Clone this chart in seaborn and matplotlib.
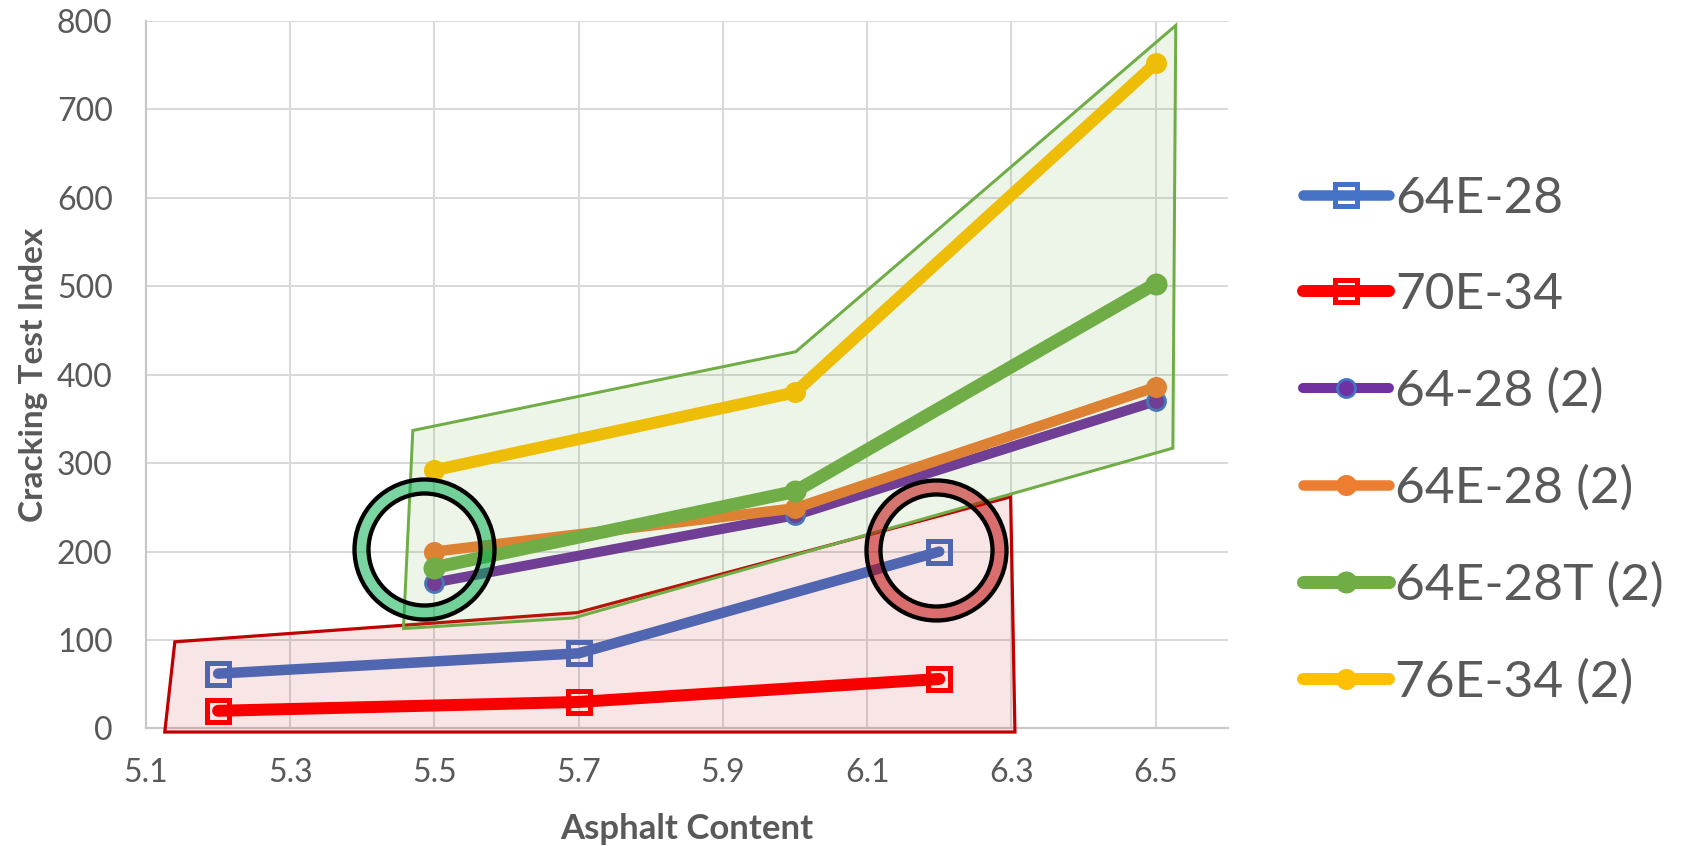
import matplotlib
matplotlib.use("Agg")
import matplotlib.pyplot as plt
import seaborn as sns

# Mix series: asphalt content (%) vs. cracking test index
x_first = [5.2, 5.7, 6.2]
cti_64e28 = [62, 85, 200]
cti_70e34 = [20, 30, 56]

x_second = [5.5, 6.0, 6.5]
cti_64_28_2 = [165, 241, 370]
cti_64e28_2 = [200, 249, 386]
cti_64e28t_2 = [182, 268, 503]
cti_76e34_2 = [292, 380, 752]

series_labels = ["64E-28", "70E-34", "64-28 (2)", "64E-28 (2)", "64E-28T (2)", "76E-34 (2)"]
x_ticks = [5.1, 5.3, 5.5, 5.7, 5.9, 6.1, 6.3, 6.5]
x_tick_labels = ["5.1", "5.3", "5.5", "5.7", "5.9", "6.1", "6.3", "6.5"]
y_ticks = [0, 100, 200, 300, 400, 500, 600, 700, 800]

# Highlight zones drawn over the chart (data coordinates)
red_zone_x = [5.126, 5.140, 5.698, 6.299, 6.305]
red_zone_y = [-4, 98, 131, 262, -4]
green_zone_x = [5.457, 5.470, 6.001, 6.528, 6.524, 5.693]
green_zone_y = [113, 337, 426, 795, 317, 125]

# Ring callouts
ring_x = [5.485, 6.195]
ring_y = [203, 202]
ring_colors = ["#00B050", "#C00000"]

sns.set_theme(style="white")
plt.rcParams["font.family"] = ["Lato", "DejaVu Sans"]

TEXT = "#595959"
PX = 0.72  # points per pixel at dpi 100

fig = plt.figure(figsize=(16.88, 8.46), dpi=100)
ax = fig.add_axes([0.0865, 0.1389, 0.6408, 0.8363])

common = dict(solid_capstyle="round", solid_joinstyle="round", errorbar=None, zorder=2)

sns.lineplot(x=x_first, y=cti_64e28, ax=ax, color="#4472C4", linewidth=10.5 * PX,
             marker="s", markersize=23 * PX, markerfacecolor="none",
             markeredgecolor="#4472C4", markeredgewidth=5 * PX,
             label=series_labels[0], **common)
sns.lineplot(x=x_first, y=cti_70e34, ax=ax, color="#FF0000", linewidth=12 * PX,
             marker="s", markersize=23 * PX, markerfacecolor="none",
             markeredgecolor="#FF0000", markeredgewidth=5 * PX,
             label=series_labels[1], **common)
sns.lineplot(x=x_second, y=cti_64_28_2, ax=ax, color="#7030A0", linewidth=10 * PX,
             marker="o", markersize=18 * PX, markerfacecolor="#7030A0",
             markeredgecolor="#4472C4", markeredgewidth=2.8 * PX,
             label=series_labels[2], **common)
sns.lineplot(x=x_second, y=cti_64e28_2, ax=ax, color="#ED7D31", linewidth=10.5 * PX,
             marker="o", markersize=21 * PX, markerfacecolor="#ED7D31",
             markeredgecolor="#ED7D31", markeredgewidth=0,
             label=series_labels[3], **common)
sns.lineplot(x=x_second, y=cti_64e28t_2, ax=ax, color="#70AD47", linewidth=13 * PX,
             marker="o", markersize=22 * PX, markerfacecolor="#70AD47",
             markeredgecolor="#70AD47", markeredgewidth=0,
             label=series_labels[4], **common)
sns.lineplot(x=x_second, y=cti_76e34_2, ax=ax, color="#FFC000", linewidth=12 * PX,
             marker="o", markersize=21 * PX, markerfacecolor="#FFC000",
             markeredgecolor="#FFC000", markeredgewidth=0,
             label=series_labels[5], **common)

# Translucent zones on top of the lines
ax.fill(red_zone_x, red_zone_y, facecolor=(0.753, 0, 0, 0.10), edgecolor="#C00000",
        linewidth=3.2 * PX, zorder=3, clip_on=False)
ax.fill(green_zone_x, green_zone_y, facecolor=(0.439, 0.678, 0.278, 0.12),
        edgecolor="#70AD47", linewidth=3 * PX, zorder=3, clip_on=False)

# Ring callouts: translucent band with black outlines
for cx, cy, col in zip(ring_x, ring_y, ring_colors):
    ax.plot([cx], [cy], marker="o", markersize=126 * PX, markerfacecolor="none",
            markeredgecolor=col, markeredgewidth=14 * PX, alpha=0.52, zorder=4,
            linestyle="none")
    for d in (140, 112):
        ax.plot([cx], [cy], marker="o", markersize=d * PX, markerfacecolor="none",
                markeredgecolor="black", markeredgewidth=4.3 * PX, zorder=5,
                linestyle="none")

ax.set_xlim(5.1, 6.6)
ax.set_ylim(0, 800)
ax.set_xticks(x_ticks)
ax.set_xticklabels(x_tick_labels)
ax.set_yticks(y_ticks)

ax.grid(True, color="#D9D9D9", linewidth=2 * PX, zorder=0)
ax.set_axisbelow(True)
for side in ("top", "right"):
    ax.spines[side].set_visible(False)
for side in ("left", "bottom"):
    ax.spines[side].set_color("#C8C8C8")
    ax.spines[side].set_linewidth(2.2 * PX)
    ax.spines[side].set_zorder(1)

ax.tick_params(axis="both", length=0, labelsize=23, labelcolor=TEXT)
ax.tick_params(axis="y", pad=24)
ax.tick_params(axis="x", pad=21)

ax.set_xlabel("Asphalt Content", fontsize=25, fontweight="bold", color=TEXT, labelpad=18)
ax.set_ylabel("Cracking Test Index", fontsize=24, fontweight="bold", color=TEXT, labelpad=6)

handles, labels = ax.get_legend_handles_labels()
ax.legend(handles, labels, loc="upper left", bbox_to_anchor=(0.772, 0.7925),
          bbox_transform=fig.transFigure, frameon=False, fontsize=37,
          labelcolor=TEXT, handlelength=1.67, handletextpad=0.12,
          labelspacing=0.98, borderpad=0, borderaxespad=0, numpoints=1)

fig.savefig("out.png", dpi=100)
